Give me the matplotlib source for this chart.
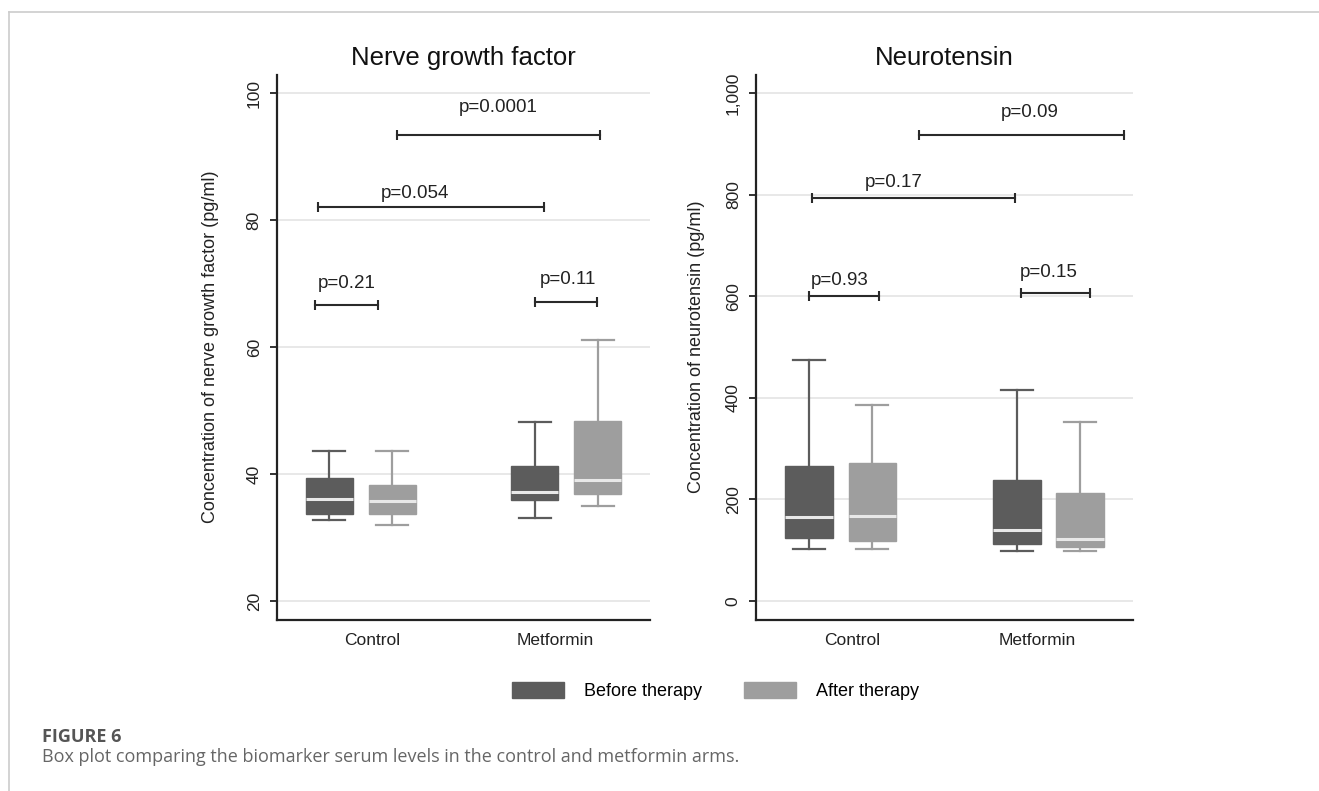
import matplotlib
matplotlib.use('Agg')
import matplotlib.pyplot as plt
from matplotlib.patches import Patch
from matplotlib.lines import Line2D

plt.rcParams['font.family'] = ['Liberation Sans', 'DejaVu Sans']

GROUPS = ['Control', 'Metformin']
PHASES = ['Before therapy', 'After therapy']
PHASE_COLORS = ['#5c5c5c', '#9e9e9e']

# box summaries: (whisker low, q1, median, q3, whisker high)
NGF_CONTROL_BEFORE = [32.8, 33.75, 36.0, 39.4, 43.6]
NGF_CONTROL_AFTER = [32.0, 33.75, 35.7, 38.3, 43.6]
NGF_METFORMIN_BEFORE = [33.1, 35.9, 37.2, 41.2, 48.2]
NGF_METFORMIN_AFTER = [34.9, 36.9, 39.1, 48.3, 61.1]

NT_CONTROL_BEFORE = [102, 124, 165, 265, 474]
NT_CONTROL_AFTER = [102, 118, 167, 272, 386]
NT_METFORMIN_BEFORE = [98, 113, 139, 239, 416]
NT_METFORMIN_AFTER = [98, 106, 123, 213, 353]

NGF_TICKS = [20, 40, 60, 80, 100]
NT_TICKS = [0, 200, 400, 600, 800, 1000]
NT_TICK_LABELS = ['0', '200', '400', '600', '800', '1,000']

# p-value brackets: (label, x start, x end, bracket y, text x, text y)
NGF_PVALUES = [
    ('p=0.21', -0.22, 0.77, 66.6, 0.28, 70.1),
    ('p=0.11', 3.27, 4.25, 67.2, 3.79, 70.6),
    ('p=0.054', -0.18, 3.41, 82.1, 1.37, 84.3),
    ('p=0.0001', 1.08, 4.30, 93.5, 2.69, 97.7),
]
NT_PVALUES = [
    ('p=0.93', 0.0, 1.10, 600, 0.48, 632),
    ('p=0.15', 3.33, 4.43, 606, 3.78, 647),
    ('p=0.17', 0.05, 3.25, 793, 1.34, 824),
    ('p=0.09', 1.735, 4.96, 917, 3.47, 963),
]

POSITIONS = [0.0, 1.0, 3.27, 4.27]
LABEL_POS = [0.68, 3.59]


def to_stats(vals):
    lo, q1, med, q3, hi = vals
    return dict(whislo=lo, q1=q1, med=med, q3=q3, whishi=hi, fliers=[])


def draw_panel(ax, boxes, pvalues, ylim, ticks, ticklabels, title, ylabel):
    stats = [to_stats(b) for b in boxes]
    bp = ax.bxp(stats, positions=POSITIONS, widths=0.75, capwidths=0.5,
                patch_artist=True, showfliers=False,
                medianprops=dict(color='#e8e8e8', lw=2.2, solid_capstyle='butt'),
                zorder=3)
    colors = [PHASE_COLORS[i % 2] for i in range(len(boxes))]
    for i, c in enumerate(colors):
        bp['boxes'][i].set_facecolor(c)
        bp['boxes'][i].set_edgecolor(c)
        bp['boxes'][i].set_linewidth(1.0)
        for art in bp['whiskers'][2 * i:2 * i + 2] + bp['caps'][2 * i:2 * i + 2]:
            art.set_color(c)
            art.set_linewidth(1.6)

    for label, x0, x1, y, tx, ty in pvalues:
        ax.plot([x0, x1], [y, y], color='#2a2a2a', lw=1.5, zorder=4)
        ax.plot([x0, x1], [y, y], ls='none', marker='|', ms=7, mew=1.5,
                color='#2a2a2a', zorder=4)
        ax.text(tx, ty, label, ha='center', va='center', fontsize=13.5,
                color='#222222')

    ax.set_xlim(-0.83, 5.1)
    ax.set_ylim(*ylim)
    ax.set_yticks(ticks)
    ax.set_yticklabels(ticklabels, rotation=90, va='center', fontsize=12.5,
                       color='#222222')
    ax.set_xticks(LABEL_POS)
    ax.set_xticklabels(GROUPS, fontsize=12.5, color='#222222')
    ax.tick_params(axis='x', length=0, pad=10)
    ax.tick_params(axis='y', length=5, width=1.3, color='#222222', pad=6)
    ax.grid(axis='y', color='#e6e6e6', lw=1.3, zorder=0)
    ax.set_axisbelow(True)
    for side in ['top', 'right']:
        ax.spines[side].set_visible(False)
    for side in ['left', 'bottom']:
        ax.spines[side].set_linewidth(1.6)
        ax.spines[side].set_color('#222222')
    ax.set_ylabel(ylabel, fontsize=13, color='#222222')
    ax.text(0.5, 1.032, title, transform=ax.transAxes, ha='center',
            va='center', fontsize=18.5, color='#111111')


fig = plt.figure(figsize=(13.19, 7.91), dpi=100)
ax1 = fig.add_axes([0.2100, 0.2168, 0.2828, 0.6884])
ax2 = fig.add_axes([0.5732, 0.2168, 0.2858, 0.6884])

draw_panel(ax1,
           [NGF_CONTROL_BEFORE, NGF_CONTROL_AFTER, NGF_METFORMIN_BEFORE, NGF_METFORMIN_AFTER],
           NGF_PVALUES, (17.08, 102.9), NGF_TICKS, [str(t) for t in NGF_TICKS],
           'Nerve growth factor', 'Concentration of nerve growth factor (pg/ml)')
ax1.yaxis.set_label_coords(-0.155, 0.5)

draw_panel(ax2,
           [NT_CONTROL_BEFORE, NT_CONTROL_AFTER, NT_METFORMIN_BEFORE, NT_METFORMIN_AFTER],
           NT_PVALUES, (-36.4, 1036), NT_TICKS, NT_TICK_LABELS,
           'Neurotensin', 'Concentration of neurotensin (pg/ml)')
ax2.yaxis.set_label_coords(-0.135, 0.5)

handles = [Patch(facecolor=c, edgecolor=c) for c in PHASE_COLORS]
fig.legend(handles, PHASES, loc='center', bbox_to_anchor=(0.5425, 0.1264),
           ncol=2, frameon=False, fontsize=13, handlelength=2.9,
           handleheight=1.0, handletextpad=1.1, columnspacing=2.3,
           borderpad=0)

# caption block and page frame
fig.text(0.0318, 0.0683, 'FIGURE 6', family='Open Sans', fontweight='bold',
         fontsize=13, color='#555555', va='center')
fig.text(0.0318, 0.0430,
         'Box plot comparing the biomarker serum levels in the control and metformin arms.',
         family='Open Sans', fontsize=13, color='#666666', va='center')
fig.add_artist(Line2D([0.0072, 1.0], [0.9852, 0.9852], transform=fig.transFigure,
                      color='#cccccc', lw=1.2))
fig.add_artist(Line2D([0.0072, 0.0072], [0.0, 0.9852], transform=fig.transFigure,
                      color='#cccccc', lw=1.2))

fig.savefig('out.png', dpi=100)
